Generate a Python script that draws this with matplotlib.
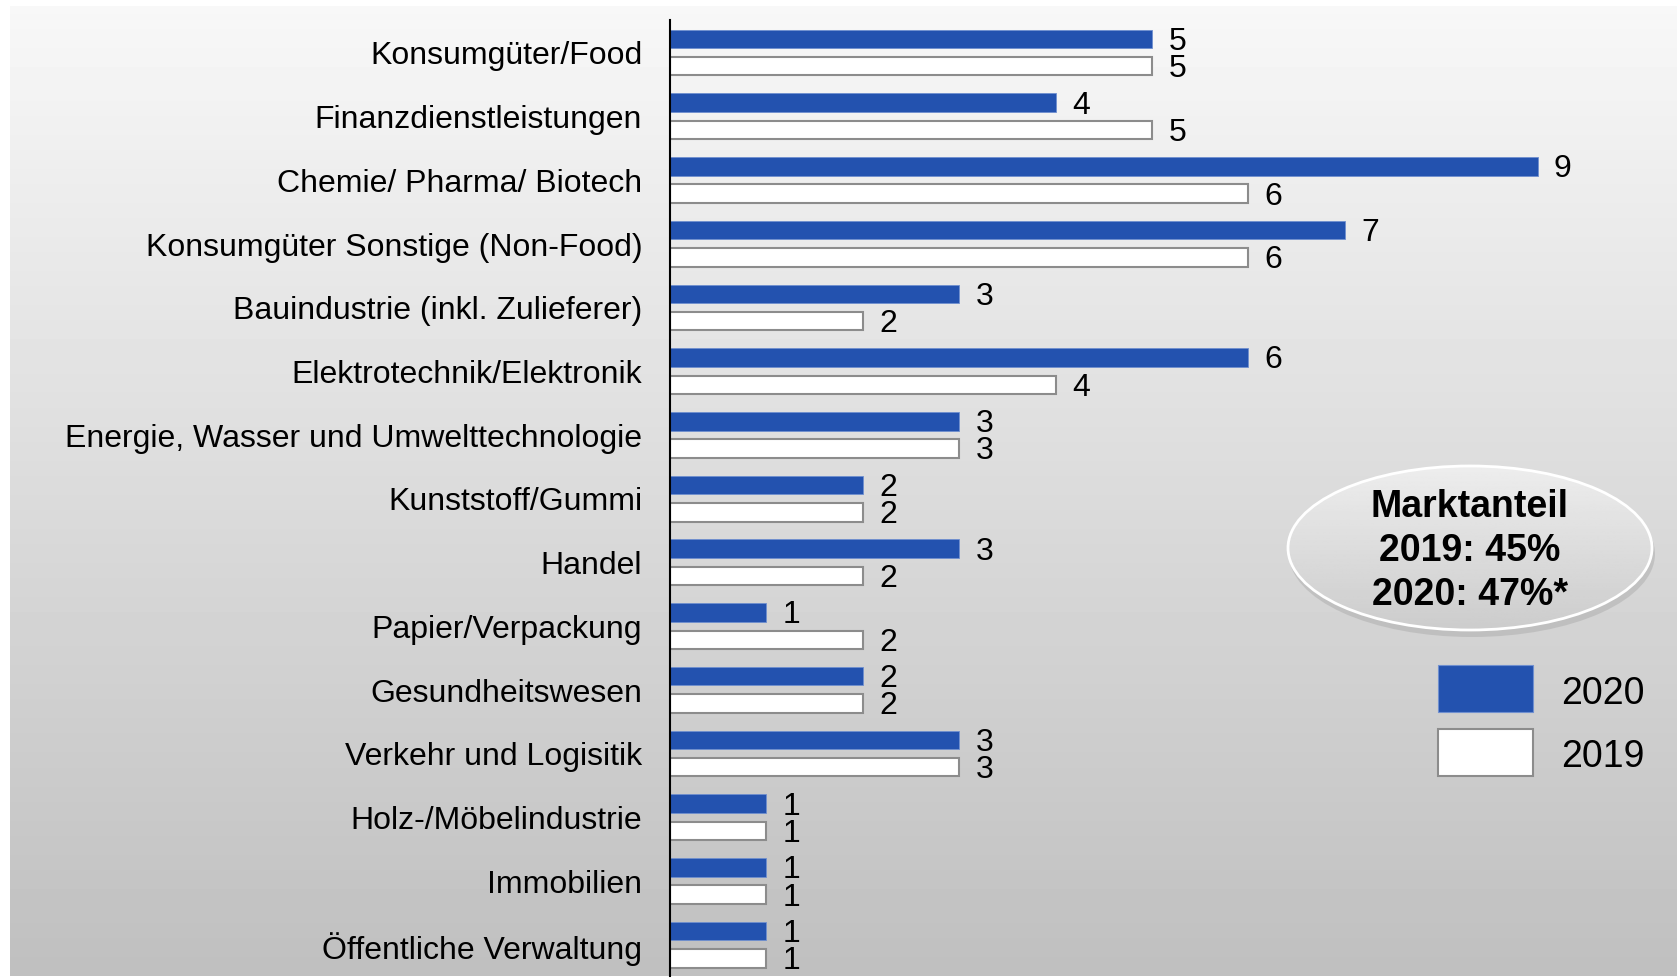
import matplotlib.pyplot as plt
import numpy as np
from matplotlib.patches import Ellipse, Rectangle

categories = [
    'Konsumgüter/Food',
    'Finanzdienstleistungen',
    'Chemie/ Pharma/ Biotech',
    'Konsumgüter Sonstige (Non-Food)',
    'Bauindustrie (inkl. Zulieferer)',
    'Elektrotechnik/Elektronik',
    'Energie, Wasser und Umwelttechnologie',
    'Kunststoff/Gummi',
    'Handel',
    'Papier/Verpackung',
    'Gesundheitswesen',
    'Verkehr und Logisitik',
    'Holz-/Möbelindustrie',
    'Immobilien',
    'Öffentliche Verwaltung',
]
values_2020 = [5, 4, 9, 7, 3, 6, 3, 2, 3, 1, 2, 3, 1, 1, 1]
values_2019 = [5, 5, 6, 6, 2, 4, 3, 2, 2, 2, 2, 3, 1, 1, 1]
box_lines = ['Marktanteil', '2019: 45%', '2020: 47%*']

BLUE = '#2352af'
plt.rcParams['font.family'] = ['Liberation Sans', 'DejaVu Sans']

W, H = 1677, 979
fig = plt.figure(figsize=(W / 100, H / 100), dpi=100)

# background panel with vertical gradient
bg = fig.add_axes([10 / W, 2 / H, 1 - 10 / W, 970 / H])
grad = np.linspace(0.97, 0.75, 256).reshape(-1, 1)
bg.imshow(grad, aspect='auto', cmap='gray', vmin=0, vmax=1, extent=[0, 1, 0, 1])
bg.set_axis_off()

ax = fig.add_axes([670 / W, 2 / H, 964 / W, 956 / H])
ax.patch.set_alpha(0)
y = np.arange(len(categories))
h = 0.29
off = 0.214
ax.barh(y - off + 0.01, values_2020, height=h, color=BLUE, edgecolor='#6f8fcf', linewidth=0.6)
ax.barh(y + off + 0.01, values_2019, height=h, color='white', edgecolor='#8c8c8c', linewidth=1.5)
for i in range(len(categories)):
    ax.text(values_2020[i] + 0.17, y[i] - off + 0.04, str(values_2020[i]), va='center', ha='left', fontsize=23)
    ax.text(values_2019[i] + 0.17, y[i] + off + 0.04, str(values_2019[i]), va='center', ha='left', fontsize=23)

ax.set_xlim(0, 10)
ax.set_ylim(len(categories) - 0.5, -0.5)
ax.set_yticks(y)
ax.set_yticklabels(categories, fontsize=23)
ax.tick_params(axis='y', length=0, pad=20)
ax.set_xticks([])
for s in ['top', 'right', 'bottom']:
    ax.spines[s].set_visible(False)
ax.spines['left'].set_linewidth(1.5)

# ellipse with market share
ov = fig.add_axes([0, 0, 1, 1])
ov.set_xlim(0, W)
ov.set_ylim(H, 0)
ov.set_axis_off()
ov.patch.set_alpha(0)
ov.add_patch(Ellipse((1472, 555), 366, 166, color='#9a9a9a', alpha=0.35, lw=0))
ell = Ellipse((1470, 549), 364, 164, facecolor='none', edgecolor='white', lw=2)
ov.add_patch(ell)
# gradient fill inside the ellipse
egrad = np.linspace(0.93, 0.80, 128).reshape(-1, 1)
im = ov.imshow(egrad, cmap='gray', vmin=0, vmax=1, aspect='auto',
               extent=[1288, 1652, 631, 467], zorder=1)
im.set_clip_path(ell)
ell.set_zorder(2)
ov.set_xlim(0, W)
ov.set_ylim(H, 0)
ov.text(1470, 551, '\n'.join(box_lines), ha='center', va='center', fontsize=27,
        fontweight='bold', linespacing=1.28, zorder=3)

# legend
ov.add_patch(Rectangle((1438, 666), 95, 47, facecolor=BLUE, edgecolor='#6f8fcf', lw=0.8))
ov.add_patch(Rectangle((1438, 730), 95, 47, facecolor='white', edgecolor='#8c8c8c', lw=1.5))
ov.text(1561, 694, '2020', va='center', ha='left', fontsize=27)
ov.text(1561, 757, '2019', va='center', ha='left', fontsize=27)

fig.savefig('out.png', dpi=100)
